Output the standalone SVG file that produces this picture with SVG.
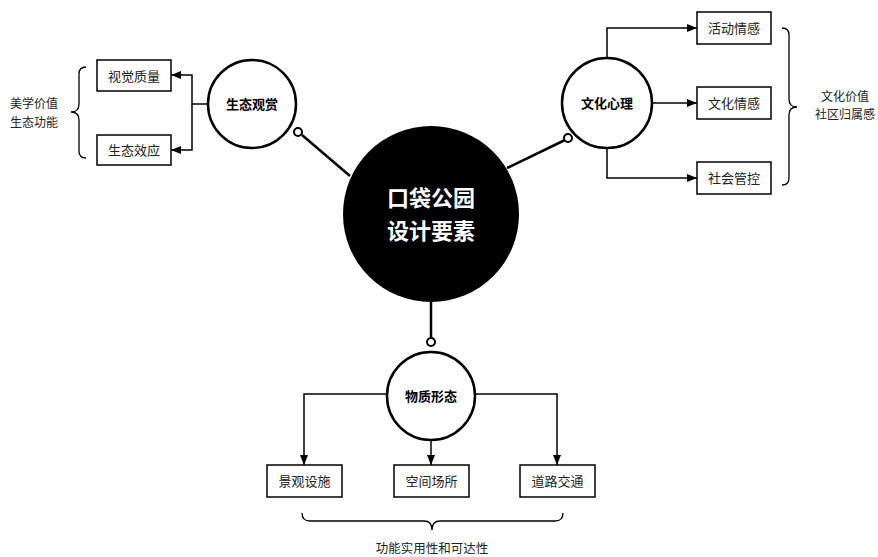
<svg xmlns="http://www.w3.org/2000/svg" width="878" height="557" viewBox="0 0 878 557">
<defs>
<marker id="arr" viewBox="0 0 10 8" refX="10" refY="4" markerWidth="10" markerHeight="8" markerUnits="userSpaceOnUse" orient="auto">
<path d="M0,0 L10,4 L0,8 Z" fill="#000"/>
</marker>
</defs>
<style>
text{font-family:"Noto Sans CJK SC","Liberation Sans",sans-serif;text-anchor:middle}
.box{fill:#fff;stroke:#000;stroke-width:1.5}
.bt{font-size:13px;fill:#222}
.ring{fill:#fff;stroke:#000;stroke-width:2.5}
.rt{font-size:13px;font-weight:bold;fill:#000}
.ln{fill:none;stroke:#000;stroke-width:1.5}
.th{fill:none;stroke:#000;stroke-width:2.5}
.dot{fill:#fff;stroke:#000;stroke-width:2}
.br{fill:none;stroke:#000;stroke-width:1.3}
.lbl{font-size:12.5px;fill:#222}
.sl{font-size:12px;fill:#222}
</style>
<rect width="878" height="557" fill="#fff"/>
<g id="connectors">
<line class="th" x1="350" y1="176" x2="302" y2="135"/>
<line class="th" x1="507" y1="168" x2="565" y2="140"/>
<line class="th" x1="431" y1="302" x2="431" y2="338"/>
<path class="ln" d="M208,104 H192 V75 H171" marker-end="url(#arr)"/>
<path class="ln" d="M192,104 V150 H171" marker-end="url(#arr)"/>
<path class="ln" d="M607,58 V28 H697" marker-end="url(#arr)"/>
<path class="ln" d="M652,103 H697" marker-end="url(#arr)"/>
<path class="ln" d="M607,148 V178 H697" marker-end="url(#arr)"/>
<path class="ln" d="M388,394 H304 V465" marker-end="url(#arr)"/>
<path class="ln" d="M474,394 H557 V465" marker-end="url(#arr)"/>
<path class="ln" d="M431,440 V465" marker-end="url(#arr)"/>
<circle class="dot" cx="298" cy="132" r="4"/>
<circle class="dot" cx="568" cy="138" r="4"/>
<circle class="dot" cx="431" cy="342" r="4"/>
</g>
<g id="center">
<circle cx="431" cy="214" r="88" fill="#000"/>
<text x="431" y="206" font-size="22" font-weight="bold" fill="#fff">口袋公园</text>
<text x="431" y="239" font-size="22" font-weight="bold" fill="#fff">设计要素</text>
</g>
<g id="ecology">
<circle class="ring" cx="252" cy="104" r="44"/>
<text class="rt" x="252" y="109">生态观赏</text>
</g>
<g id="culture">
<circle class="ring" cx="607" cy="103" r="45"/>
<text class="rt" x="607" y="108">文化心理</text>
</g>
<g id="material">
<circle class="ring" cx="431" cy="396" r="44"/>
<text class="rt" x="431" y="401">物质形态</text>
</g>
<g id="visual"><rect class="box" x="97" y="60" width="74" height="31"/><text class="bt" x="134" y="80.5">视觉质量</text></g>
<g id="effect"><rect class="box" x="97" y="135" width="74" height="30"/><text class="bt" x="134" y="155">生态效应</text></g>
<g id="activity"><rect class="box" x="697" y="12" width="74" height="32"/><text class="bt" x="734" y="33">活动情感</text></g>
<g id="cultural"><rect class="box" x="697" y="87" width="74" height="32"/><text class="bt" x="734" y="108">文化情感</text></g>
<g id="social"><rect class="box" x="697" y="162" width="74" height="32"/><text class="bt" x="734" y="183">社会管控</text></g>
<g id="landscape"><rect class="box" x="267" y="465" width="75" height="32"/><text class="bt" x="304.5" y="486">景观设施</text></g>
<g id="space"><rect class="box" x="394" y="465" width="75" height="32"/><text class="bt" x="431.5" y="486">空间场所</text></g>
<g id="road"><rect class="box" x="520" y="465" width="75" height="32"/><text class="bt" x="557.5" y="486">道路交通</text></g>
<g id="brace-left">
<path class="br" d="M86,67 Q79,67 79,74 V104 Q79,112 71,112 Q79,112 79,120 V151 Q79,158 86,158"/>
<text class="sl" x="34" y="108">美学价值</text>
<text class="sl" x="34" y="126.5">生态功能</text>
</g>
<g id="brace-right">
<path class="br" d="M782,28 Q789,28 789,35 V99 Q789,107 797,107 Q789,107 789,115 V178 Q789,185 782,185"/>
<text class="sl" x="845" y="100.5">文化价值</text>
<text class="sl" x="845" y="119">社区归属感</text>
</g>
<g id="brace-bottom">
<path class="br" d="M302,513 Q302,521 310,521 H424 Q432,521 432,530 Q432,521 440,521 H555 Q563,521 563,513"/>
<text class="lbl" x="432" y="553">功能实用性和可达性</text>
</g>
</svg>
